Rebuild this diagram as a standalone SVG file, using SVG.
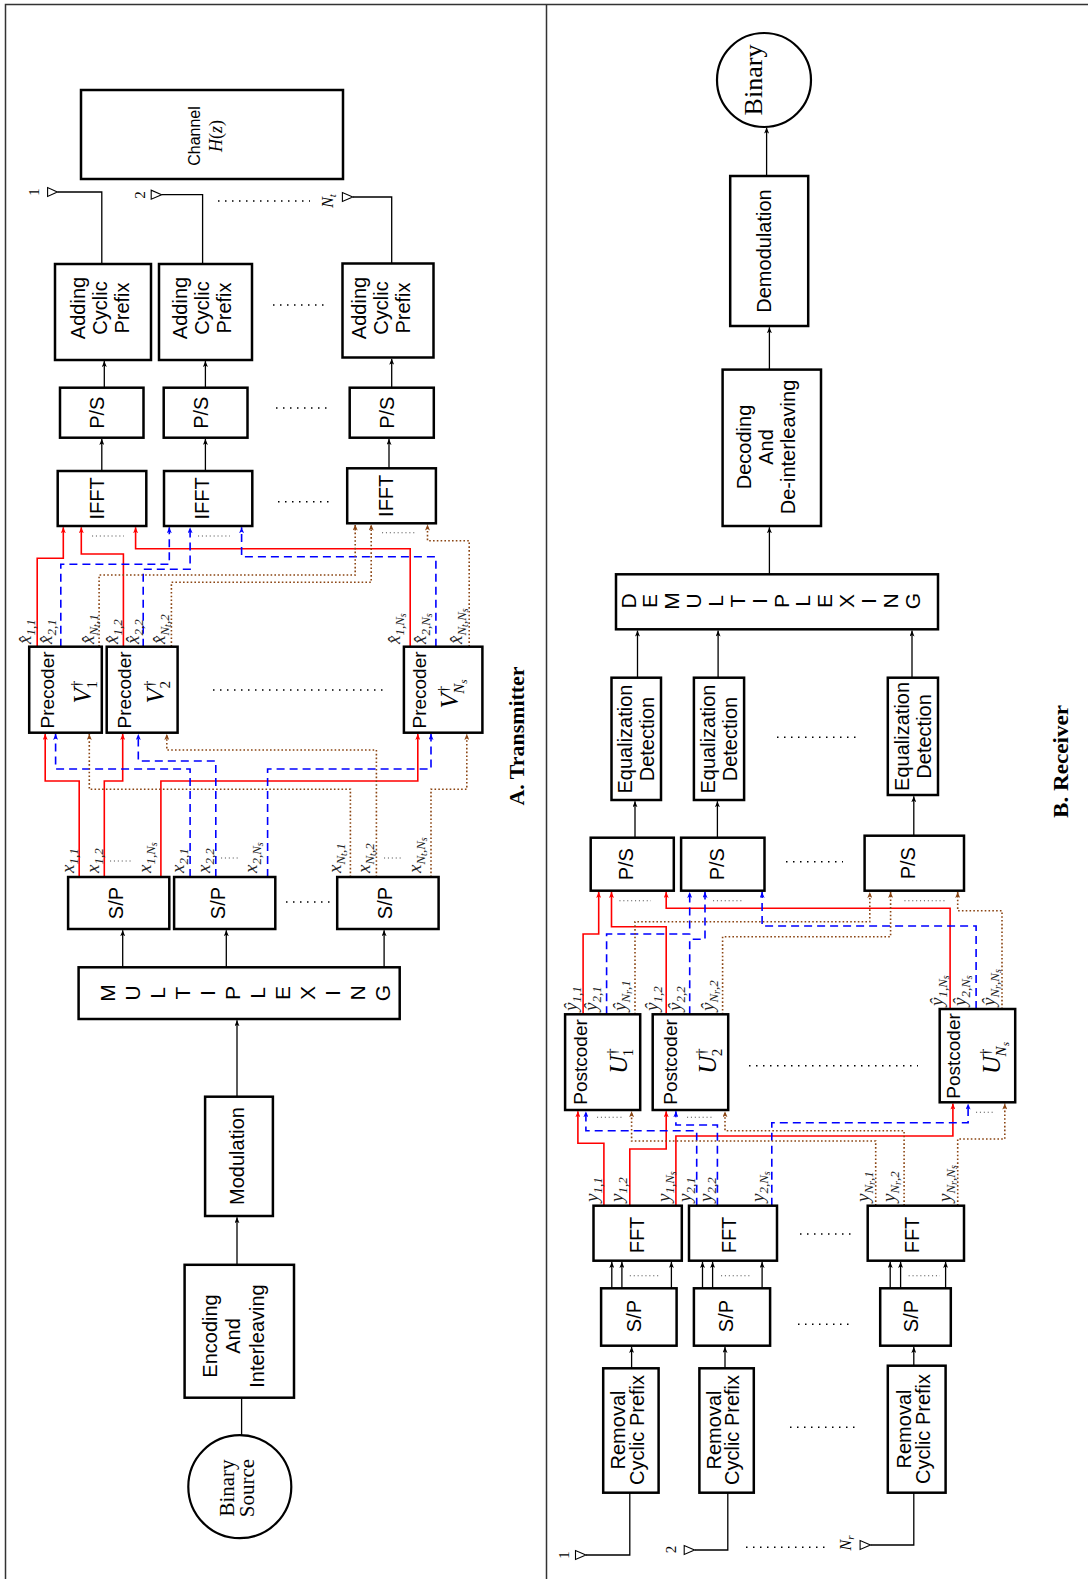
<svg xmlns="http://www.w3.org/2000/svg" width="1088" height="1579" viewBox="0 0 1088 1579">
<defs>
<style>
.box{fill:#fff;stroke:#000;stroke-width:2.5}
.t{font-family:"Liberation Sans",Arial,sans-serif;font-size:20px;fill:#000;text-anchor:middle}
.t19{font-size:19px}
.lt{font-family:"Liberation Sans",Arial,sans-serif;font-size:21px;fill:#000;text-anchor:middle}
.sf{font-family:"Liberation Serif","Times New Roman",serif;fill:#000;text-anchor:middle}
.m{font-family:"Liberation Serif","Times New Roman",serif;font-style:italic;font-size:19px;fill:#222}
.s{font-size:13px}
.ss{font-size:10px}
.v{font-family:"Liberation Serif","Times New Roman",serif;font-style:italic;font-size:25px;fill:#000;text-anchor:middle}
.vs{font-size:15px}
.cap{font-family:"Liberation Serif","Times New Roman",serif;font-weight:bold;font-size:20px;fill:#000;text-anchor:middle}
.ln{fill:none;stroke:#000;stroke-width:1.3}
.ka{fill:none;stroke:#000;stroke-width:1.3;marker-end:url(#mk)}
.r{fill:none;stroke:#ff0000;stroke-width:1.6;marker-end:url(#mr)}
.b{fill:none;stroke:#0000ff;stroke-width:1.6;stroke-dasharray:8 5;marker-end:url(#mb)}
.n{fill:none;stroke:#8b4513;stroke-width:1.6;stroke-dasharray:1.6 2.2;marker-end:url(#mn)}
.dt{fill:none;stroke:#000;stroke-width:1.5;stroke-dasharray:1.5 5.5}
.gd{fill:none;stroke:#555;stroke-width:1.1;stroke-dasharray:1.1 2.8}
.ant{fill:#fff;stroke:#000;stroke-width:1.1}
.fr{fill:none;stroke:#333;stroke-width:1.5}
</style>
<marker id="mk" viewBox="0 0 6 5" refX="6" refY="2.5" markerWidth="6" markerHeight="5" markerUnits="userSpaceOnUse" orient="auto"><path d="M0,0L6,2.5L0,5L1.5,2.5z" fill="#000"/></marker>
<marker id="mr" viewBox="0 0 6 5" refX="6" refY="2.5" markerWidth="6" markerHeight="5" markerUnits="userSpaceOnUse" orient="auto"><path d="M0,0L6,2.5L0,5L1.5,2.5z" fill="#ff0000"/></marker>
<marker id="mb" viewBox="0 0 6 5" refX="6" refY="2.5" markerWidth="6" markerHeight="5" markerUnits="userSpaceOnUse" orient="auto"><path d="M0,0L6,2.5L0,5L1.5,2.5z" fill="#0000ff"/></marker>
<marker id="mn" viewBox="0 0 6 5" refX="6" refY="2.5" markerWidth="6" markerHeight="5" markerUnits="userSpaceOnUse" orient="auto"><path d="M0,0L6,2.5L0,5L1.5,2.5z" fill="#8b4513"/></marker>
</defs>
<rect x="0" y="0" width="1088" height="1579" fill="#fff"/>
<g id="frame">
<path class="fr" d="M5.5,1579V4.5H1088"/>
<path class="fr" d="M546.5,4.5V1579"/>
</g>

<g id="connectors">
<path class="ln" d="M57.4,192H101.8V264"/>
<path class="ln" d="M161.6,194.7H202.6V264"/>
<path class="ln" d="M352.8,197H391.7V263.3"/>
<path class="ln" d="M241.6,1435V1397.7"/>
<path class="ln" d="M585.9,1555H629.8V1492.7"/>
<path class="ln" d="M694.6,1550H727.8V1492.7"/>
<path class="ln" d="M870.5,1545H913.8V1492.7"/>
<path class="ka" d="M104.3,387.7V361"/>
<path class="ka" d="M205.4,387.7V361"/>
<path class="ka" d="M391.7,387.7V358.7"/>
<path class="ka" d="M101.8,471V438.9"/>
<path class="ka" d="M205.4,471V438.9"/>
<path class="ka" d="M389,468.3V438.9"/>
<path class="ka" d="M122.7,967.3V930.2"/>
<path class="ka" d="M226.3,967.3V930.2"/>
<path class="ka" d="M384.1,967.3V930.2"/>
<path class="ka" d="M237,1096.7V1020.2"/>
<path class="ka" d="M237,1264.8V1217.2"/>
<path class="ka" d="M766.6,176V127.5"/>
<path class="ka" d="M769.4,369.6V327.2"/>
<path class="ka" d="M769.4,574.3V527.2"/>
<path class="ka" d="M637.5,677.7V630.5"/>
<path class="ka" d="M718.1,677.7V630.5"/>
<path class="ka" d="M912,677.7V630.5"/>
<path class="ka" d="M635,837.7V801.2"/>
<path class="ka" d="M717.4,837.7V801.2"/>
<path class="ka" d="M913.8,835.7V796.2"/>
<path class="ka" d="M611.8,1288.3V1261.9"/>
<path class="ka" d="M621.9,1288.3V1261.9"/>
<path class="ka" d="M671.4,1288.3V1261.9"/>
<path class="ka" d="M702.5,1288.3V1261.9"/>
<path class="ka" d="M712.6,1288.3V1261.9"/>
<path class="ka" d="M762.1,1288.3V1261.9"/>
<path class="ka" d="M890.2,1288.3V1261.9"/>
<path class="ka" d="M900.6,1288.3V1261.9"/>
<path class="ka" d="M945.6,1288.3V1261.9"/>
<path class="ka" d="M631.6,1368.3V1346.9"/>
<path class="ka" d="M725,1368.3V1346.9"/>
<path class="ka" d="M913.8,1365.7V1346.9"/>
<path class="r" d="M37.2,646.7V558.3H63.3V527.2"/>
<path class="r" d="M123.4,646.7V554H81.3V527.2"/>
<path class="r" d="M410.2,646.7V548.7H135.6V527.2"/>
<path class="b" d="M60.8,646.7V564.3H169.3V527.2"/>
<path class="b" d="M143.2,646.7V569.3H190.1V527.2"/>
<path class="b" d="M435.9,646.7V556.7H241.6V527.2"/>
<path class="n" d="M99.1,646.7V575H355.2V524.5"/>
<path class="n" d="M171.4,646.7V582.3H371.2V524.5"/>
<path class="n" d="M469.2,646.7V540.7H427.5V524.5"/>
<path class="r" d="M79.2,877V781H45.2V733.9"/>
<path class="r" d="M104.3,877V781H122.7V733.9"/>
<path class="r" d="M160.9,877V781H417.8V733.9"/>
<path class="b" d="M190.1,877V769H55.6V733.9"/>
<path class="b" d="M215.8,877V761H138.3V733.9"/>
<path class="b" d="M267.6,877V769H431V733.9"/>
<path class="n" d="M350.4,877V789.3H89.3V733.9"/>
<path class="n" d="M376.4,877V750H166.8V733.9"/>
<path class="n" d="M431,877V789.3H466.8V733.9"/>
<path class="r" d="M583.1,1014.3V934H598.7V891.9"/>
<path class="r" d="M666.2,1014.3V926.7H611.5V891.9"/>
<path class="r" d="M950.1,1009V908.3H666.2V891.9"/>
<path class="b" d="M606.6,1014.3V934H689.7V891.9"/>
<path class="b" d="M689.7,1014.3V939.3H705V891.9"/>
<path class="b" d="M976.1,1009V926H762.1V891.9"/>
<path class="n" d="M635,1014.3V921.7H869.8V891.9"/>
<path class="n" d="M722.6,1014.3V936.7H890.6V891.9"/>
<path class="n" d="M1002,1009V910.7H957.7V891.9"/>
<path class="r" d="M603.9,1205.7V1143.3H577.9V1111.2"/>
<path class="r" d="M629.8,1205.7V1149H666.2V1111.2"/>
<path class="r" d="M675.9,1205.7V1136H952.9V1103.5"/>
<path class="b" d="M696.7,1205.7V1130.7H585.9V1111.2"/>
<path class="b" d="M717.4,1205.7V1125H675.9V1111.2"/>
<path class="b" d="M771.8,1205.7V1122.7H968.1V1103.5"/>
<path class="n" d="M875.7,1205.7V1141H631.6V1111.2"/>
<path class="n" d="M904.1,1205.7V1130.7H725V1111.2"/>
<path class="n" d="M957.7,1205.7V1139H1004.8V1103.5"/>
<path class="dt" d="M218,201H310"/>
<path class="dt" d="M273,305H324"/>
<path class="dt" d="M276,408H327"/>
<path class="dt" d="M278,501.7H329"/>
<path class="dt" d="M213,690H383"/>
<path class="dt" d="M286,902H330"/>
<path class="dt" d="M777,737.3H857"/>
<path class="dt" d="M786,861.7H843"/>
<path class="dt" d="M749,1065.7H918"/>
<path class="dt" d="M800,1234H852"/>
<path class="dt" d="M798,1324.3H849"/>
<path class="dt" d="M790,1427.3H855"/>
<path class="dt" d="M746,1547.3H828"/>
<path class="gd" d="M92,536H124"/>
<path class="gd" d="M198,536H230"/>
<path class="gd" d="M382,532.7H417"/>
<path class="gd" d="M110,861H131"/>
<path class="gd" d="M221,858H238"/>
<path class="gd" d="M384,858H402"/>
<path class="gd" d="M619.4,900.7H651"/>
<path class="gd" d="M713,900.7H744"/>
<path class="gd" d="M904.4,900.7H945"/>
<path class="gd" d="M597,1117.3H622"/>
<path class="gd" d="M687,1117.3H713"/>
<path class="gd" d="M976,1112.3H994"/>
<path class="gd" d="M629.8,1275.7H661"/>
<path class="gd" d="M721,1275.7H752"/>
<path class="gd" d="M908.6,1275.7H940"/>
</g>

<g id="channel">
<rect class="box" x="81" y="90" width="262" height="89"/>
<text class="t" style="font-size:16px" transform="translate(200,136) rotate(-90)">Channel</text>
<text class="sf" style="font-size:18px" transform="translate(222,136) rotate(-90)"><tspan font-style="italic">H</tspan>(<tspan font-style="italic">z</tspan>)</text>
</g>
<g id="tx-antennas">
<polygon class="ant" points="47.6,187.5 47.6,196.5 57.4,192"/>
<polygon class="ant" points="151.2,190.2 151.2,199.2 161.6,194.7"/>
<polygon class="ant" points="342.4,192.5 342.4,201.5 352.8,197"/>
<text class="sf" style="font-size:15px" transform="translate(39,192) rotate(-90)">1</text>
<text class="sf" style="font-size:15px" transform="translate(145,195) rotate(-90)">2</text>
<text class="sf" style="font-size:16px;font-style:italic" transform="translate(333,201) rotate(-90)">N<tspan style="font-size:11px" dy="3">t</tspan></text>
</g>
<g id="acp1"><rect class="box" x="55" y="264" width="96" height="96"/>
<text class="t" transform="translate(85,308) rotate(-90)">Adding</text>
<text class="t" transform="translate(107,308) rotate(-90)">Cyclic</text>
<text class="t" transform="translate(129,308) rotate(-90)">Prefix</text></g>
<g id="acp2"><rect class="box" x="159" y="264" width="93" height="96"/>
<text class="t" transform="translate(187.4,308) rotate(-90)">Adding</text>
<text class="t" transform="translate(209.4,308) rotate(-90)">Cyclic</text>
<text class="t" transform="translate(231.4,308) rotate(-90)">Prefix</text></g>
<g id="acp3"><rect class="box" x="342.5" y="263.5" width="91" height="94"/>
<text class="t" transform="translate(366,308) rotate(-90)">Adding</text>
<text class="t" transform="translate(388,308) rotate(-90)">Cyclic</text>
<text class="t" transform="translate(410,308) rotate(-90)">Prefix</text></g>
<g id="tps1"><rect class="box" x="60" y="387.7" width="83.5" height="50"/><text class="t" transform="translate(104,412.7) rotate(-90)">P/S</text></g>
<g id="tps2"><rect class="box" x="163.7" y="387.7" width="83.8" height="50"/><text class="t" transform="translate(207.5,412.7) rotate(-90)">P/S</text></g>
<g id="tps3"><rect class="box" x="349.7" y="387.7" width="84.1" height="50"/><text class="t" transform="translate(394,412.7) rotate(-90)">P/S</text></g>
<g id="ifft1"><rect class="box" x="57.7" y="471" width="88.6" height="55"/><text class="t" transform="translate(104,498.5) rotate(-90)">IFFT</text></g>
<g id="ifft2"><rect class="box" x="164" y="471" width="88.3" height="55"/><text class="t" transform="translate(209,498.5) rotate(-90)">IFFT</text></g>
<g id="ifft3"><rect class="box" x="347.2" y="468.3" width="88.7" height="55"/><text class="t" transform="translate(393,495.8) rotate(-90)">IFFT</text></g>
<g id="pre1"><rect class="box" x="29.2" y="646.7" width="72.6" height="86"/>
<text class="t t19" transform="translate(54,690) rotate(-90)">Precoder</text>
<text class="v" transform="translate(91,692) rotate(-90)">V<tspan class="vs" dy="-10" font-style="normal">†</tspan><tspan class="vs" dx="-8" dy="16" font-style="normal">1</tspan></text></g>
<g id="pre2"><rect class="box" x="106.7" y="646.7" width="70.9" height="86"/>
<text class="t t19" transform="translate(131,690) rotate(-90)">Precoder</text>
<text class="v" transform="translate(164,692) rotate(-90)">V<tspan class="vs" dy="-10" font-style="normal">†</tspan><tspan class="vs" dx="-8" dy="16" font-style="normal">2</tspan></text></g>
<g id="pre3"><rect class="box" x="403.9" y="646.7" width="78.5" height="86"/>
<text class="t t19" transform="translate(426,690) rotate(-90)">Precoder</text>
<text class="v" transform="translate(458,694) rotate(-90)">V<tspan class="vs" dy="-10" font-style="normal">†</tspan><tspan class="vs" dx="-8" dy="16">N</tspan><tspan style="font-size:11px" dy="3">s</tspan></text></g>
<g id="tx-labels-out">
<text class="m" transform="translate(31,644) rotate(-90)">x&#770;<tspan class="s" dy="4">1,1</tspan></text>
<text class="m" transform="translate(52,644) rotate(-90)">x&#770;<tspan class="s" dy="4">2,1</tspan></text>
<text class="m" transform="translate(94,644) rotate(-90)">x&#770;<tspan class="s" dy="4">N</tspan><tspan class="ss" dy="2">t</tspan><tspan class="s" dy="-2">,1</tspan></text>
<text class="m" transform="translate(118,644) rotate(-90)">x&#770;<tspan class="s" dy="4">1,2</tspan></text>
<text class="m" transform="translate(138.5,644) rotate(-90)">x&#770;<tspan class="s" dy="4">2,2</tspan></text>
<text class="m" transform="translate(165,644) rotate(-90)">x&#770;<tspan class="s" dy="4">N</tspan><tspan class="ss" dy="2">t</tspan><tspan class="s" dy="-2">,2</tspan></text>
<text class="m" transform="translate(400,644) rotate(-90)">x&#770;<tspan class="s" dy="4">1,N</tspan><tspan class="ss" dy="2">s</tspan></text>
<text class="m" transform="translate(426,644) rotate(-90)">x&#770;<tspan class="s" dy="4">2,N</tspan><tspan class="ss" dy="2">s</tspan></text>
<text class="m" transform="translate(462,644) rotate(-90)">x&#770;<tspan class="s" dy="4">N</tspan><tspan class="ss" dy="2">t</tspan><tspan class="s" dy="-2">,N</tspan><tspan class="ss" dy="2">s</tspan></text>
</g>
<g id="tx-labels-in">
<text class="m" transform="translate(74,873) rotate(-90)">x<tspan class="s" dy="4">1,1</tspan></text>
<text class="m" transform="translate(98.5,873) rotate(-90)">x<tspan class="s" dy="4">1,2</tspan></text>
<text class="m" transform="translate(150.5,873) rotate(-90)">x<tspan class="s" dy="4">1,N</tspan><tspan class="ss" dy="2">s</tspan></text>
<text class="m" transform="translate(183.5,873) rotate(-90)">x<tspan class="s" dy="4">2,1</tspan></text>
<text class="m" transform="translate(209.5,873) rotate(-90)">x<tspan class="s" dy="4">2,2</tspan></text>
<text class="m" transform="translate(256.5,873) rotate(-90)">x<tspan class="s" dy="4">2,N</tspan><tspan class="ss" dy="2">s</tspan></text>
<text class="m" transform="translate(341,873) rotate(-90)">x<tspan class="s" dy="4">N</tspan><tspan class="ss" dy="2">t</tspan><tspan class="s" dy="-2">,1</tspan></text>
<text class="m" transform="translate(370,873) rotate(-90)">x<tspan class="s" dy="4">N</tspan><tspan class="ss" dy="2">t</tspan><tspan class="s" dy="-2">,2</tspan></text>
<text class="m" transform="translate(420.5,873) rotate(-90)">x<tspan class="s" dy="4">N</tspan><tspan class="ss" dy="2">t</tspan><tspan class="s" dy="-2">,N</tspan><tspan class="ss" dy="2">s</tspan></text>
</g>
<g id="tsp1"><rect class="box" x="68.1" y="877" width="101.2" height="52"/><text class="t" transform="translate(123,903) rotate(-90)">S/P</text></g>
<g id="tsp2"><rect class="box" x="174.1" y="877" width="101.2" height="52"/><text class="t" transform="translate(225,903) rotate(-90)">S/P</text></g>
<g id="tsp3"><rect class="box" x="337.2" y="877" width="101.4" height="52"/><text class="t" transform="translate(392,903) rotate(-90)">S/P</text></g>
<g id="mux"><rect class="box" x="78.6" y="967.3" width="321.1" height="51.7"/>
<text class="lt" transform="translate(115.2,993) rotate(-90)">M</text>
<text class="lt" transform="translate(140.2,993) rotate(-90)">U</text>
<text class="lt" transform="translate(165.1,993) rotate(-90)">L</text>
<text class="lt" transform="translate(190.1,993) rotate(-90)">T</text>
<text class="lt" transform="translate(215.1,993) rotate(-90)">I</text>
<text class="lt" transform="translate(240.1,993) rotate(-90)">P</text>
<text class="lt" transform="translate(265,993) rotate(-90)">L</text>
<text class="lt" transform="translate(290,993) rotate(-90)">E</text>
<text class="lt" transform="translate(315,993) rotate(-90)">X</text>
<text class="lt" transform="translate(339.9,993) rotate(-90)">I</text>
<text class="lt" transform="translate(364.9,993) rotate(-90)">N</text>
<text class="lt" transform="translate(389.9,993) rotate(-90)">G</text></g>
<g id="modulation"><rect class="box" x="205.1" y="1096.7" width="67.8" height="119.3"/><text class="t" transform="translate(244,1156) rotate(-90)">Modulation</text></g>
<g id="encoding"><rect class="box" x="184.6" y="1264.8" width="109.4" height="132.9"/>
<text class="t" transform="translate(217,1336) rotate(-90)">Encoding</text>
<text class="t" transform="translate(240,1336) rotate(-90)">And</text>
<text class="t" transform="translate(263.6,1336) rotate(-90)">Interleaving</text></g>
<g id="source"><circle cx="239.8" cy="1486.7" r="51.5" fill="#fff" stroke="#000" stroke-width="2.2"/>
<text class="sf" style="font-size:21px" transform="translate(234,1488) rotate(-90)">Binary</text>
<text class="sf" style="font-size:21px" transform="translate(253.5,1488) rotate(-90)">Source</text></g>
<text class="cap" transform="translate(524,736) rotate(-90)" textLength="139" lengthAdjust="spacingAndGlyphs">A. Transmitter</text>

<g id="sink"><circle cx="764" cy="80" r="47" fill="#fff" stroke="#000" stroke-width="2.2"/>
<text class="sf" style="font-size:26px" transform="translate(762,80) rotate(-90)">Binary</text></g>
<g id="demod"><rect class="box" x="730.2" y="176" width="78" height="150"/><text class="t" transform="translate(771,251) rotate(-90)">Demodulation</text></g>
<g id="decoding"><rect class="box" x="722.6" y="369.6" width="98.4" height="156.4"/>
<text class="t" transform="translate(750.5,447) rotate(-90)">Decoding</text>
<text class="t" transform="translate(773,447) rotate(-90)">And</text>
<text class="t" transform="translate(794.5,447) rotate(-90)">De-interleaving</text></g>
<g id="demux"><rect class="box" x="616" y="574.3" width="322" height="55"/>
<text class="lt" transform="translate(635.5,601) rotate(-90)">D</text>
<text class="lt" transform="translate(657.4,601) rotate(-90)">E</text>
<text class="lt" transform="translate(679.2,601) rotate(-90)">M</text>
<text class="lt" transform="translate(701.1,601) rotate(-90)">U</text>
<text class="lt" transform="translate(722.9,601) rotate(-90)">L</text>
<text class="lt" transform="translate(744.8,601) rotate(-90)">T</text>
<text class="lt" transform="translate(766.6,601) rotate(-90)">I</text>
<text class="lt" transform="translate(788.5,601) rotate(-90)">P</text>
<text class="lt" transform="translate(810.3,601) rotate(-90)">L</text>
<text class="lt" transform="translate(832.2,601) rotate(-90)">E</text>
<text class="lt" transform="translate(854,601) rotate(-90)">X</text>
<text class="lt" transform="translate(875.9,601) rotate(-90)">I</text>
<text class="lt" transform="translate(897.7,601) rotate(-90)">N</text>
<text class="lt" transform="translate(919.6,601) rotate(-90)">G</text></g>
<g id="eq1"><rect class="box" x="611.5" y="677.7" width="49.5" height="122.3"/>
<text class="t" transform="translate(632.3,739) rotate(-90)">Equalization</text>
<text class="t" transform="translate(654.3,739) rotate(-90)">Detection</text></g>
<g id="eq2"><rect class="box" x="693.9" y="677.7" width="50.2" height="122.3"/>
<text class="t" transform="translate(714.8,739) rotate(-90)">Equalization</text>
<text class="t" transform="translate(736.8,739) rotate(-90)">Detection</text></g>
<g id="eq3"><rect class="box" x="887.8" y="677.7" width="50.2" height="117.3"/>
<text class="t" transform="translate(908.9,736.4) rotate(-90)">Equalization</text>
<text class="t" transform="translate(930.9,736.4) rotate(-90)">Detection</text></g>
<g id="rps1"><rect class="box" x="590.7" y="837.7" width="83.1" height="53"/><text class="t" transform="translate(633,864.2) rotate(-90)">P/S</text></g>
<g id="rps2"><rect class="box" x="681.1" y="837.7" width="83.4" height="53"/><text class="t" transform="translate(724,864.2) rotate(-90)">P/S</text></g>
<g id="rps3"><rect class="box" x="864.6" y="835.7" width="99.4" height="55"/><text class="t" transform="translate(915,863.2) rotate(-90)">P/S</text></g>
<g id="rx-labels-out">
<text class="m" transform="translate(577,1011) rotate(-90)">y&#770;<tspan class="s" dy="4">1,1</tspan></text>
<text class="m" transform="translate(597,1011) rotate(-90)">y&#770;<tspan class="s" dy="4">2,1</tspan></text>
<text class="m" transform="translate(626,1011) rotate(-90)">y&#770;<tspan class="s" dy="4">N</tspan><tspan class="ss" dy="2">r</tspan><tspan class="s" dy="-2">,1</tspan></text>
<text class="m" transform="translate(658,1011) rotate(-90)">y&#770;<tspan class="s" dy="4">1,2</tspan></text>
<text class="m" transform="translate(681,1011) rotate(-90)">y&#770;<tspan class="s" dy="4">2,2</tspan></text>
<text class="m" transform="translate(714,1011) rotate(-90)">y&#770;<tspan class="s" dy="4">N</tspan><tspan class="ss" dy="2">r</tspan><tspan class="s" dy="-2">,2</tspan></text>
<text class="m" transform="translate(943,1006) rotate(-90)">y&#770;<tspan class="s" dy="4">1,N</tspan><tspan class="ss" dy="2">s</tspan></text>
<text class="m" transform="translate(966,1006) rotate(-90)">y&#770;<tspan class="s" dy="4">2,N</tspan><tspan class="ss" dy="2">s</tspan></text>
<text class="m" transform="translate(995,1006) rotate(-90)">y&#770;<tspan class="s" dy="4">N</tspan><tspan class="ss" dy="2">r</tspan><tspan class="s" dy="-2">,N</tspan><tspan class="ss" dy="2">s</tspan></text>
</g>
<g id="post1"><rect class="box" x="565.1" y="1014.3" width="75.1" height="95.7"/>
<text class="t t19" transform="translate(587,1062) rotate(-90)">Postcoder</text>
<text class="v" transform="translate(627,1061) rotate(-90)">U<tspan class="vs" dy="-10" font-style="normal">†</tspan><tspan class="vs" dx="-8" dy="16" font-style="normal">1</tspan></text></g>
<g id="post2"><rect class="box" x="652.7" y="1014.3" width="75.5" height="95.7"/>
<text class="t t19" transform="translate(677,1062) rotate(-90)">Postcoder</text>
<text class="v" transform="translate(716,1061) rotate(-90)">U<tspan class="vs" dy="-10" font-style="normal">†</tspan><tspan class="vs" dx="-8" dy="16" font-style="normal">2</tspan></text></g>
<g id="post3"><rect class="box" x="939.7" y="1009" width="75.5" height="93.3"/>
<text class="t t19" transform="translate(960,1056) rotate(-90)">Postcoder</text>
<text class="v" transform="translate(1000,1058) rotate(-90)">U<tspan class="vs" dy="-10" font-style="normal">†</tspan><tspan class="vs" dx="-8" dy="16">N</tspan><tspan style="font-size:11px" dy="3">s</tspan></text></g>
<g id="rx-labels-in">
<text class="m" transform="translate(598,1202) rotate(-90)">y<tspan class="s" dy="4">1,1</tspan></text>
<text class="m" transform="translate(623,1202) rotate(-90)">y<tspan class="s" dy="4">1,2</tspan></text>
<text class="m" transform="translate(670,1202) rotate(-90)">y<tspan class="s" dy="4">1,N</tspan><tspan class="ss" dy="2">s</tspan></text>
<text class="m" transform="translate(691,1202) rotate(-90)">y<tspan class="s" dy="4">2,1</tspan></text>
<text class="m" transform="translate(711.5,1202) rotate(-90)">y<tspan class="s" dy="4">2,2</tspan></text>
<text class="m" transform="translate(763.5,1202) rotate(-90)">y<tspan class="s" dy="4">2,N</tspan><tspan class="ss" dy="2">s</tspan></text>
<text class="m" transform="translate(869,1202) rotate(-90)">y<tspan class="s" dy="4">N</tspan><tspan class="ss" dy="2">r</tspan><tspan class="s" dy="-2">,1</tspan></text>
<text class="m" transform="translate(895,1202) rotate(-90)">y<tspan class="s" dy="4">N</tspan><tspan class="ss" dy="2">r</tspan><tspan class="s" dy="-2">,2</tspan></text>
<text class="m" transform="translate(950.5,1202) rotate(-90)">y<tspan class="s" dy="4">N</tspan><tspan class="ss" dy="2">r</tspan><tspan class="s" dy="-2">,N</tspan><tspan class="ss" dy="2">s</tspan></text>
</g>
<g id="fft1"><rect class="box" x="593.5" y="1205.7" width="88.3" height="55"/><text class="t" transform="translate(644,1235) rotate(-90)">FFT</text></g>
<g id="fft2"><rect class="box" x="689" y="1205.7" width="88" height="55"/><text class="t" transform="translate(735.5,1235) rotate(-90)">FFT</text></g>
<g id="fft3"><rect class="box" x="867.7" y="1205.7" width="96.3" height="55"/><text class="t" transform="translate(919,1235) rotate(-90)">FFT</text></g>
<g id="rsp1"><rect class="box" x="601.1" y="1288.3" width="75.5" height="57.4"/><text class="t" transform="translate(641,1316) rotate(-90)">S/P</text></g>
<g id="rsp2"><rect class="box" x="693.9" y="1288.3" width="76.2" height="57.4"/><text class="t" transform="translate(733,1316) rotate(-90)">S/P</text></g>
<g id="rsp3"><rect class="box" x="880.2" y="1288.3" width="70.6" height="57.4"/><text class="t" transform="translate(917.5,1316) rotate(-90)">S/P</text></g>
<g id="rcp1"><rect class="box" x="603.2" y="1368.3" width="55.4" height="124.4"/>
<text class="t" transform="translate(625,1430) rotate(-90)">Removal</text>
<text class="t" transform="translate(643.5,1430) rotate(-90)">Cyclic Prefix</text></g>
<g id="rcp2"><rect class="box" x="699.4" y="1368.3" width="54.4" height="124.4"/>
<text class="t" transform="translate(720.5,1430) rotate(-90)">Removal</text>
<text class="t" transform="translate(739,1430) rotate(-90)">Cyclic Prefix</text></g>
<g id="rcp3"><rect class="box" x="887.8" y="1365.7" width="57.8" height="127"/>
<text class="t" transform="translate(911,1429) rotate(-90)">Removal</text>
<text class="t" transform="translate(929.5,1429) rotate(-90)">Cyclic Prefix</text></g>
<g id="rx-antennas">
<polygon class="ant" points="575.5,1550.5 575.5,1559.5 585.9,1555"/>
<polygon class="ant" points="684.2,1545.5 684.2,1554.5 694.6,1550"/>
<polygon class="ant" points="860.1,1540.5 860.1,1549.5 870.5,1545"/>
<text class="sf" style="font-size:15px" transform="translate(569,1555) rotate(-90)">1</text>
<text class="sf" style="font-size:15px" transform="translate(676,1549.5) rotate(-90)">2</text>
<text class="sf" style="font-size:16px;font-style:italic" transform="translate(851,1543) rotate(-90)">N<tspan style="font-size:11px" dy="3">r</tspan></text>
</g>
<text class="cap" transform="translate(1068,761.5) rotate(-90)" textLength="113" lengthAdjust="spacingAndGlyphs">B. Receiver</text>
</svg>
